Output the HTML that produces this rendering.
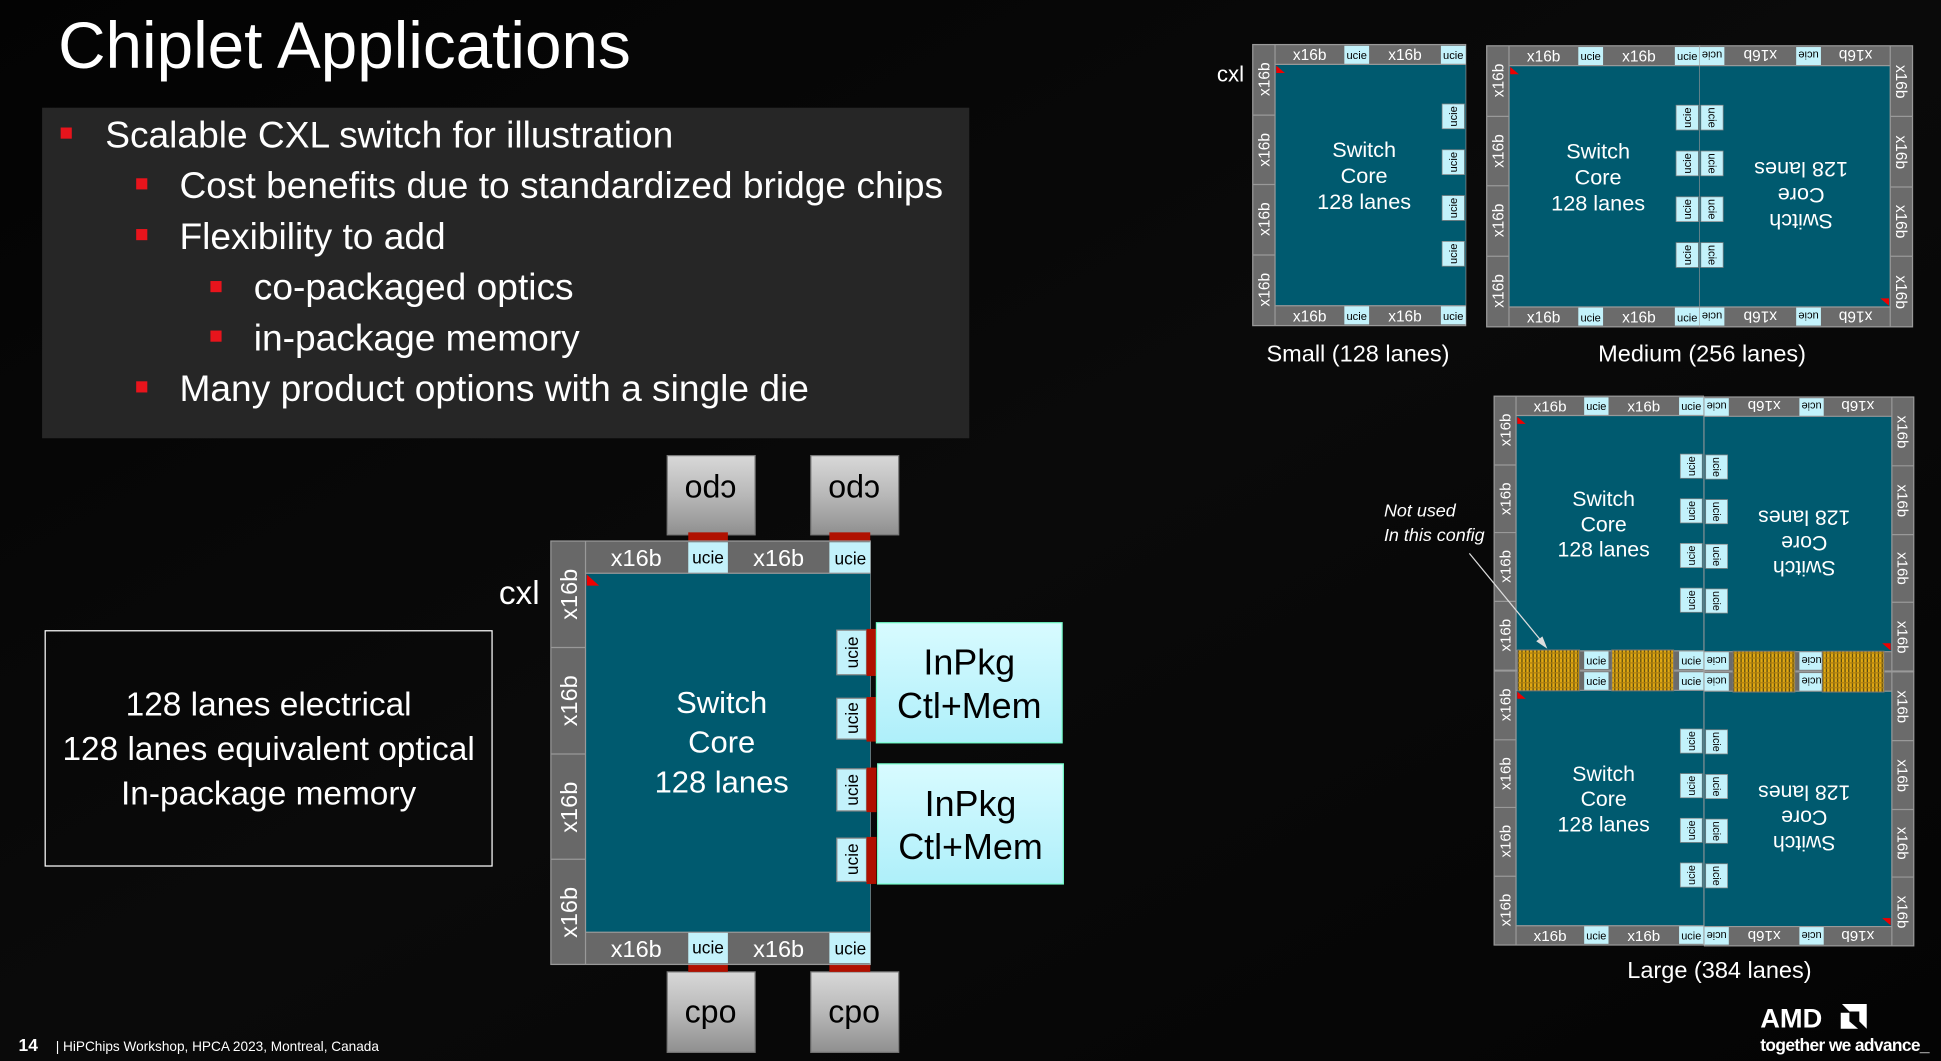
<!DOCTYPE html>
<html><head><meta charset="utf-8"><style>
body{margin:0;background:#000}
#w{width:1941px;height:1061px;overflow:hidden;background:#030303}
text{font-family:"Liberation Sans",sans-serif}
.t{fill:#fff;font-size:12.5px;text-anchor:middle}
.u{fill:#000;font-size:9px;text-anchor:middle}
.c{fill:#fff;font-size:17.5px;text-anchor:middle}
.ln{stroke:#999;stroke-width:1}
</style></head><body><div id="w">
<svg width="1941" height="1061" viewBox="0 0 1568 857" preserveAspectRatio="none" xmlns="http://www.w3.org/2000/svg">
<defs>
<linearGradient id="bg" x1="0" y1="0" x2="1" y2="1"><stop offset="0" stop-color="#030303"/><stop offset="0.5" stop-color="#0a0a0a"/><stop offset="1" stop-color="#040404"/></linearGradient>
<linearGradient id="gr" x1="0" y1="0" x2="0" y2="1"><stop offset="0" stop-color="#d8d8d8"/><stop offset="0.5" stop-color="#b8b8b8"/><stop offset="1" stop-color="#8f8f8f"/></linearGradient>
<linearGradient id="cy" x1="0" y1="0" x2="0" y2="1"><stop offset="0" stop-color="#d8fbff"/><stop offset="1" stop-color="#aeeffa"/></linearGradient>
<pattern id="hat" width="3" height="4" patternUnits="userSpaceOnUse"><rect width="3" height="4" fill="#e0a812"/><rect x="2" width="1" height="4" fill="#5a4a10"/><rect y="3" width="3" height="1" fill="#b08010"/></pattern>
</defs>
<rect width="1568" height="857" fill="url(#bg)"/>

<text x="47" y="55" style="fill:#fff;font-size:53px">Chiplet Applications</text>
<rect x="34" y="87" width="749" height="267" fill="#262626"/>
<g style="fill:#fff;font-size:30px">
<rect x="49" y="103" width="9" height="9" fill="#e8141c"/><text x="85" y="119">Scalable CXL switch for illustration</text>
<rect x="110" y="144" width="9" height="9" fill="#e8141c"/><text x="145" y="160">Cost benefits due to standardized bridge chips</text>
<rect x="110" y="185" width="9" height="9" fill="#e8141c"/><text x="145" y="201">Flexibility to add</text>
<rect x="170" y="227" width="9" height="9" fill="#e8141c"/><text x="205" y="242">co-packaged optics</text>
<rect x="170" y="267" width="9" height="9" fill="#e8141c"/><text x="205" y="283">in-package memory</text>
<rect x="110" y="308" width="9" height="9" fill="#e8141c"/><text x="145" y="324">Many product options with a single die</text>
</g>

<rect x="36.5" y="509.5" width="361" height="190" fill="none" stroke="#fff" stroke-width="1"/>
<g style="fill:#fff;font-size:27px;text-anchor:middle">
<text x="217" y="578">128 lanes electrical</text>
<text x="217" y="614">128 lanes equivalent optical</text>
<text x="217" y="650">In-package memory</text>
</g>

<text x="403" y="488" style="fill:#fff;font-size:27px">cxl</text>
<rect x="539" y="368" width="71" height="64" fill="url(#gr)" stroke="#777"/>
<rect x="655" y="368" width="71" height="64" fill="url(#gr)" stroke="#777"/>
<rect x="539" y="785" width="71" height="65" fill="url(#gr)" stroke="#777"/>
<rect x="655" y="785" width="71" height="65" fill="url(#gr)" stroke="#777"/>
<text x="574" y="404" style="font-size:26px;text-anchor:middle" transform="rotate(180 574 396)">cpo</text>
<text x="690" y="404" style="font-size:26px;text-anchor:middle" transform="rotate(180 690 396)">cpo</text>
<text x="574" y="826" style="font-size:26px;text-anchor:middle">cpo</text>
<text x="690" y="826" style="font-size:26px;text-anchor:middle">cpo</text>
<rect x="556" y="430" width="32" height="7" fill="#b01000"/>
<rect x="670" y="430" width="33" height="7" fill="#b01000"/>
<rect x="556" y="778" width="32" height="7" fill="#b01000"/>
<rect x="670" y="778" width="33" height="7" fill="#b01000"/>

<rect x="445" y="437" width="258" height="342" fill="#686868" stroke="#999"/>
<rect x="473" y="463" width="230" height="290" fill="#005a6f"/>
<rect x="556" y="438" width="32" height="25" fill="#c3f2fb"/>
<rect x="670" y="438" width="33" height="25" fill="#c3f2fb"/>
<rect x="556" y="753" width="32" height="25" fill="#c3f2fb"/>
<rect x="670" y="753" width="33" height="25" fill="#c3f2fb"/>
<g class="ln"><line x1="473" y1="437" x2="473" y2="779"/><line x1="445" y1="523" x2="473" y2="523"/><line x1="445" y1="609" x2="473" y2="609"/><line x1="445" y1="694" x2="473" y2="694"/><line x1="473" y1="463" x2="703" y2="463"/><line x1="473" y1="753" x2="703" y2="753"/></g>
<polygon points="474,464 484,473 474,473" fill="#e00"/>
<g style="fill:#fff;font-size:19px;text-anchor:middle">
<text x="514" y="457">x16b</text><text x="629" y="457">x16b</text>
<text x="514" y="773">x16b</text><text x="629" y="773">x16b</text>
<text transform="translate(466 480) rotate(-90)">x16b</text>
<text transform="translate(466 566) rotate(-90)">x16b</text>
<text transform="translate(466 652) rotate(-90)">x16b</text>
<text transform="translate(466 737) rotate(-90)">x16b</text>
</g>
<g style="fill:#000;font-size:14px;text-anchor:middle">
<text x="572" y="455">ucie</text><text x="687" y="456">ucie</text>
<text x="572" y="770">ucie</text><text x="687" y="771">ucie</text>
</g>
<g fill="#c3f2fb" stroke="#888"><rect x="676" y="509" width="24" height="36"/><rect x="676" y="564" width="24" height="33"/><rect x="676" y="621" width="24" height="34"/><rect x="676" y="677" width="24" height="35"/></g>
<g style="fill:#000;font-size:14px;text-anchor:middle">
<text transform="translate(693 527) rotate(-90)">ucie</text><text transform="translate(693 580) rotate(-90)">ucie</text>
<text transform="translate(693 638) rotate(-90)">ucie</text><text transform="translate(693 694) rotate(-90)">ucie</text>
</g>
<g fill="#b01000"><rect x="700" y="508" width="8" height="38"/><rect x="700" y="563" width="8" height="36"/><rect x="700" y="620" width="8" height="36"/><rect x="700" y="676" width="8" height="38"/></g>
<rect x="708" y="503" width="150" height="97" fill="url(#cy)" stroke="#7fc"/>
<rect x="709" y="617" width="150" height="97" fill="url(#cy)" stroke="#7fc"/>
<g style="fill:#000;font-size:29px;text-anchor:middle">
<text x="783" y="545">InPkg</text><text x="783" y="580">Ctl+Mem</text>
<text x="784" y="659">InPkg</text><text x="784" y="694">Ctl+Mem</text>
</g>
<g style="fill:#fff;font-size:25px;text-anchor:middle">
<text x="583" y="576">Switch</text><text x="583" y="608">Core</text><text x="583" y="640">128 lanes</text>
</g>

<text x="983" y="66" style="fill:#fff;font-size:18px">cxl</text>
<g transform="translate(1012 36)">
<rect x="0" y="0" width="172" height="227" fill="#6b6b6b" stroke="#9a9a9a"/>
<rect x="18" y="16" width="154" height="195" fill="#005a6f"/>
<g fill="#c3f2fb"><rect x="74" y="1" width="20" height="15"/><rect x="152" y="1" width="20" height="15"/><rect x="74" y="211" width="20" height="15"/><rect x="152" y="211" width="20" height="15"/></g>
<g class="ln"><line x1="18" y1="0" x2="18" y2="227"/><line x1="0" y1="57" x2="18" y2="57"/><line x1="0" y1="113" x2="18" y2="113"/><line x1="0" y1="170" x2="18" y2="170"/><line x1="18" y1="16" x2="172" y2="16"/><line x1="18" y1="211" x2="172" y2="211"/></g>
<g fill="#c3f2fb" stroke="#888" stroke-width="0.6"><rect x="153" y="48" width="18" height="20"/><rect x="153" y="85" width="18" height="20"/><rect x="153" y="122" width="18" height="20"/><rect x="153" y="159" width="18" height="20"/></g>
<polygon points="19,17 26,23 19,23" fill="#e00"/>
<text class="t" x="46" y="12.5">x16b</text><text class="t" x="123" y="12.5">x16b</text>
<text class="t" x="46" y="223.5">x16b</text><text class="t" x="123" y="223.5">x16b</text>
<text class="t" transform="translate(13.5 28) rotate(-90)">x16b</text><text class="t" transform="translate(13.5 85) rotate(-90)">x16b</text>
<text class="t" transform="translate(13.5 141) rotate(-90)">x16b</text><text class="t" transform="translate(13.5 198) rotate(-90)">x16b</text>
<text class="u" x="84" y="11.5">ucie</text><text class="u" x="162" y="11.5">ucie</text><text class="u" x="84" y="222.5">ucie</text><text class="u" x="162" y="222.5">ucie</text>
<text class="u" transform="translate(165 58) rotate(-90)">ucie</text><text class="u" transform="translate(165 95) rotate(-90)">ucie</text>
<text class="u" transform="translate(165 132) rotate(-90)">ucie</text><text class="u" transform="translate(165 169) rotate(-90)">ucie</text>
<text class="c" x="90" y="91">Switch</text><text class="c" x="90" y="112">Core</text><text class="c" x="90" y="133">128 lanes</text>
</g>
<text x="1097" y="292" style="fill:#fff;font-size:19px;text-anchor:middle">Small (128 lanes)</text>

<g transform="translate(1201 37)">
<rect x="0" y="0" width="172" height="227" fill="#6b6b6b" stroke="#9a9a9a"/>
<rect x="18" y="16" width="154" height="195" fill="#005a6f"/>
<g fill="#c3f2fb"><rect x="74" y="1" width="20" height="15"/><rect x="152" y="1" width="20" height="15"/><rect x="74" y="211" width="20" height="15"/><rect x="152" y="211" width="20" height="15"/></g>
<g class="ln"><line x1="18" y1="0" x2="18" y2="227"/><line x1="0" y1="57" x2="18" y2="57"/><line x1="0" y1="113" x2="18" y2="113"/><line x1="0" y1="170" x2="18" y2="170"/><line x1="18" y1="16" x2="172" y2="16"/><line x1="18" y1="211" x2="172" y2="211"/></g>
<g fill="#c3f2fb" stroke="#888" stroke-width="0.6"><rect x="153" y="48" width="18" height="20"/><rect x="153" y="85" width="18" height="20"/><rect x="153" y="122" width="18" height="20"/><rect x="153" y="159" width="18" height="20"/></g>
<polygon points="19,17 26,23 19,23" fill="#e00"/>
<text class="t" x="46" y="12.5">x16b</text><text class="t" x="123" y="12.5">x16b</text>
<text class="t" x="46" y="223.5">x16b</text><text class="t" x="123" y="223.5">x16b</text>
<text class="t" transform="translate(13.5 28) rotate(-90)">x16b</text><text class="t" transform="translate(13.5 85) rotate(-90)">x16b</text>
<text class="t" transform="translate(13.5 141) rotate(-90)">x16b</text><text class="t" transform="translate(13.5 198) rotate(-90)">x16b</text>
<text class="u" x="84" y="11.5">ucie</text><text class="u" x="162" y="11.5">ucie</text><text class="u" x="84" y="222.5">ucie</text><text class="u" x="162" y="222.5">ucie</text>
<text class="u" transform="translate(165 58) rotate(-90)">ucie</text><text class="u" transform="translate(165 95) rotate(-90)">ucie</text>
<text class="u" transform="translate(165 132) rotate(-90)">ucie</text><text class="u" transform="translate(165 169) rotate(-90)">ucie</text>
<text class="c" x="90" y="91">Switch</text><text class="c" x="90" y="112">Core</text><text class="c" x="90" y="133">128 lanes</text>
</g>
<g transform="translate(1545 264) rotate(180)">
<rect x="0" y="0" width="172" height="227" fill="#6b6b6b" stroke="#9a9a9a"/>
<rect x="18" y="16" width="154" height="195" fill="#005a6f"/>
<g fill="#c3f2fb"><rect x="74" y="1" width="20" height="15"/><rect x="152" y="1" width="20" height="15"/><rect x="74" y="211" width="20" height="15"/><rect x="152" y="211" width="20" height="15"/></g>
<g class="ln"><line x1="18" y1="0" x2="18" y2="227"/><line x1="0" y1="57" x2="18" y2="57"/><line x1="0" y1="113" x2="18" y2="113"/><line x1="0" y1="170" x2="18" y2="170"/><line x1="18" y1="16" x2="172" y2="16"/><line x1="18" y1="211" x2="172" y2="211"/></g>
<g fill="#c3f2fb" stroke="#888" stroke-width="0.6"><rect x="153" y="48" width="18" height="20"/><rect x="153" y="85" width="18" height="20"/><rect x="153" y="122" width="18" height="20"/><rect x="153" y="159" width="18" height="20"/></g>
<polygon points="19,17 26,23 19,23" fill="#e00"/>
<text class="t" x="46" y="12.5">x16b</text><text class="t" x="123" y="12.5">x16b</text>
<text class="t" x="46" y="223.5">x16b</text><text class="t" x="123" y="223.5">x16b</text>
<text class="t" transform="translate(13.5 28) rotate(-90)">x16b</text><text class="t" transform="translate(13.5 85) rotate(-90)">x16b</text>
<text class="t" transform="translate(13.5 141) rotate(-90)">x16b</text><text class="t" transform="translate(13.5 198) rotate(-90)">x16b</text>
<text class="u" x="84" y="11.5">ucie</text><text class="u" x="162" y="11.5">ucie</text><text class="u" x="84" y="222.5">ucie</text><text class="u" x="162" y="222.5">ucie</text>
<text class="u" transform="translate(165 58) rotate(-90)">ucie</text><text class="u" transform="translate(165 95) rotate(-90)">ucie</text>
<text class="u" transform="translate(165 132) rotate(-90)">ucie</text><text class="u" transform="translate(165 169) rotate(-90)">ucie</text>
<text class="c" x="90" y="91">Switch</text><text class="c" x="90" y="112">Core</text><text class="c" x="90" y="133">128 lanes</text>
</g>
<text x="1375" y="292" style="fill:#fff;font-size:19px;text-anchor:middle">Medium (256 lanes)</text>

<g transform="translate(1207 320) scale(0.983 0.975)">
<rect x="0" y="0" width="172" height="227" fill="#6b6b6b" stroke="#9a9a9a"/>
<rect x="18" y="16" width="154" height="195" fill="#005a6f"/>
<g fill="#c3f2fb"><rect x="74" y="1" width="20" height="15"/><rect x="152" y="1" width="20" height="15"/><rect x="74" y="211" width="20" height="15"/><rect x="152" y="211" width="20" height="15"/></g>
<g class="ln"><line x1="18" y1="0" x2="18" y2="227"/><line x1="0" y1="57" x2="18" y2="57"/><line x1="0" y1="113" x2="18" y2="113"/><line x1="0" y1="170" x2="18" y2="170"/><line x1="18" y1="16" x2="172" y2="16"/><line x1="18" y1="211" x2="172" y2="211"/></g>
<g fill="#c3f2fb" stroke="#888" stroke-width="0.6"><rect x="153" y="48" width="18" height="20"/><rect x="153" y="85" width="18" height="20"/><rect x="153" y="122" width="18" height="20"/><rect x="153" y="159" width="18" height="20"/></g>
<polygon points="19,17 26,23 19,23" fill="#e00"/>
<text class="t" x="46" y="12.5">x16b</text><text class="t" x="123" y="12.5">x16b</text>
<text class="t" transform="translate(13.5 28) rotate(-90)">x16b</text><text class="t" transform="translate(13.5 85) rotate(-90)">x16b</text>
<text class="t" transform="translate(13.5 141) rotate(-90)">x16b</text><text class="t" transform="translate(13.5 198) rotate(-90)">x16b</text>
<text class="u" x="84" y="11.5">ucie</text><text class="u" x="162" y="11.5">ucie</text><text class="u" x="84" y="222.5">ucie</text><text class="u" x="162" y="222.5">ucie</text>
<text class="u" transform="translate(165 58) rotate(-90)">ucie</text><text class="u" transform="translate(165 95) rotate(-90)">ucie</text>
<text class="u" transform="translate(165 132) rotate(-90)">ucie</text><text class="u" transform="translate(165 169) rotate(-90)">ucie</text>
<text class="c" x="90" y="91">Switch</text><text class="c" x="90" y="112">Core</text><text class="c" x="90" y="133">128 lanes</text>
</g>
<g transform="translate(1546 542) rotate(180) scale(0.983 0.975)">
<rect x="0" y="0" width="172" height="227" fill="#6b6b6b" stroke="#9a9a9a"/>
<rect x="18" y="16" width="154" height="195" fill="#005a6f"/>
<g fill="#c3f2fb"><rect x="74" y="1" width="20" height="15"/><rect x="152" y="1" width="20" height="15"/><rect x="74" y="211" width="20" height="15"/><rect x="152" y="211" width="20" height="15"/></g>
<g class="ln"><line x1="18" y1="0" x2="18" y2="227"/><line x1="0" y1="57" x2="18" y2="57"/><line x1="0" y1="113" x2="18" y2="113"/><line x1="0" y1="170" x2="18" y2="170"/><line x1="18" y1="16" x2="172" y2="16"/><line x1="18" y1="211" x2="172" y2="211"/></g>
<g fill="#c3f2fb" stroke="#888" stroke-width="0.6"><rect x="153" y="48" width="18" height="20"/><rect x="153" y="85" width="18" height="20"/><rect x="153" y="122" width="18" height="20"/><rect x="153" y="159" width="18" height="20"/></g>
<polygon points="19,17 26,23 19,23" fill="#e00"/>
<text class="t" x="46" y="223.5">x16b</text><text class="t" x="123" y="223.5">x16b</text>
<text class="t" transform="translate(13.5 28) rotate(-90)">x16b</text><text class="t" transform="translate(13.5 85) rotate(-90)">x16b</text>
<text class="t" transform="translate(13.5 141) rotate(-90)">x16b</text><text class="t" transform="translate(13.5 198) rotate(-90)">x16b</text>
<text class="u" x="84" y="11.5">ucie</text><text class="u" x="162" y="11.5">ucie</text><text class="u" x="84" y="222.5">ucie</text><text class="u" x="162" y="222.5">ucie</text>
<text class="u" transform="translate(165 58) rotate(-90)">ucie</text><text class="u" transform="translate(165 95) rotate(-90)">ucie</text>
<text class="u" transform="translate(165 132) rotate(-90)">ucie</text><text class="u" transform="translate(165 169) rotate(-90)">ucie</text>
<text class="c" x="90" y="91">Switch</text><text class="c" x="90" y="112">Core</text><text class="c" x="90" y="133">128 lanes</text>
</g>
<g transform="translate(1207 542) scale(0.983 0.975)">
<rect x="0" y="0" width="172" height="227" fill="#6b6b6b" stroke="#9a9a9a"/>
<rect x="18" y="16" width="154" height="195" fill="#005a6f"/>
<g fill="#c3f2fb"><rect x="74" y="1" width="20" height="15"/><rect x="152" y="1" width="20" height="15"/><rect x="74" y="211" width="20" height="15"/><rect x="152" y="211" width="20" height="15"/></g>
<g class="ln"><line x1="18" y1="0" x2="18" y2="227"/><line x1="0" y1="57" x2="18" y2="57"/><line x1="0" y1="113" x2="18" y2="113"/><line x1="0" y1="170" x2="18" y2="170"/><line x1="18" y1="16" x2="172" y2="16"/><line x1="18" y1="211" x2="172" y2="211"/></g>
<g fill="#c3f2fb" stroke="#888" stroke-width="0.6"><rect x="153" y="48" width="18" height="20"/><rect x="153" y="85" width="18" height="20"/><rect x="153" y="122" width="18" height="20"/><rect x="153" y="159" width="18" height="20"/></g>
<polygon points="19,17 26,23 19,23" fill="#e00"/>
<text class="t" x="46" y="223.5">x16b</text><text class="t" x="123" y="223.5">x16b</text>
<text class="t" transform="translate(13.5 28) rotate(-90)">x16b</text><text class="t" transform="translate(13.5 85) rotate(-90)">x16b</text>
<text class="t" transform="translate(13.5 141) rotate(-90)">x16b</text><text class="t" transform="translate(13.5 198) rotate(-90)">x16b</text>
<text class="u" x="84" y="11.5">ucie</text><text class="u" x="162" y="11.5">ucie</text><text class="u" x="84" y="222.5">ucie</text><text class="u" x="162" y="222.5">ucie</text>
<text class="u" transform="translate(165 58) rotate(-90)">ucie</text><text class="u" transform="translate(165 95) rotate(-90)">ucie</text>
<text class="u" transform="translate(165 132) rotate(-90)">ucie</text><text class="u" transform="translate(165 169) rotate(-90)">ucie</text>
<text class="c" x="90" y="91">Switch</text><text class="c" x="90" y="112">Core</text><text class="c" x="90" y="133">128 lanes</text>
</g>
<g transform="translate(1546 764) rotate(180) scale(0.983 0.975)">
<rect x="0" y="0" width="172" height="227" fill="#6b6b6b" stroke="#9a9a9a"/>
<rect x="18" y="16" width="154" height="195" fill="#005a6f"/>
<g fill="#c3f2fb"><rect x="74" y="1" width="20" height="15"/><rect x="152" y="1" width="20" height="15"/><rect x="74" y="211" width="20" height="15"/><rect x="152" y="211" width="20" height="15"/></g>
<g class="ln"><line x1="18" y1="0" x2="18" y2="227"/><line x1="0" y1="57" x2="18" y2="57"/><line x1="0" y1="113" x2="18" y2="113"/><line x1="0" y1="170" x2="18" y2="170"/><line x1="18" y1="16" x2="172" y2="16"/><line x1="18" y1="211" x2="172" y2="211"/></g>
<g fill="#c3f2fb" stroke="#888" stroke-width="0.6"><rect x="153" y="48" width="18" height="20"/><rect x="153" y="85" width="18" height="20"/><rect x="153" y="122" width="18" height="20"/><rect x="153" y="159" width="18" height="20"/></g>
<polygon points="19,17 26,23 19,23" fill="#e00"/>
<text class="t" x="46" y="12.5">x16b</text><text class="t" x="123" y="12.5">x16b</text>
<text class="t" transform="translate(13.5 28) rotate(-90)">x16b</text><text class="t" transform="translate(13.5 85) rotate(-90)">x16b</text>
<text class="t" transform="translate(13.5 141) rotate(-90)">x16b</text><text class="t" transform="translate(13.5 198) rotate(-90)">x16b</text>
<text class="u" x="84" y="11.5">ucie</text><text class="u" x="162" y="11.5">ucie</text><text class="u" x="84" y="222.5">ucie</text><text class="u" x="162" y="222.5">ucie</text>
<text class="u" transform="translate(165 58) rotate(-90)">ucie</text><text class="u" transform="translate(165 95) rotate(-90)">ucie</text>
<text class="u" transform="translate(165 132) rotate(-90)">ucie</text><text class="u" transform="translate(165 169) rotate(-90)">ucie</text>
<text class="c" x="90" y="91">Switch</text><text class="c" x="90" y="112">Core</text><text class="c" x="90" y="133">128 lanes</text>
</g>
<g fill="url(#hat)" stroke="#777" stroke-width="0.8">
<rect x="1226" y="525" width="50" height="33"/><rect x="1302" y="525" width="50" height="33"/>
<rect x="1400" y="526" width="50" height="33"/><rect x="1472" y="526" width="50" height="33"/>
</g>
<g style="fill:#fff;font-size:14.5px;font-style:italic">
<text x="1118" y="417">Not used</text><text x="1118" y="437">In this config</text>
</g>
<line x1="1187" y1="447" x2="1247" y2="520" stroke="#ddd" stroke-width="1"/>
<polygon points="1250,524 1241,518 1246,514" fill="#ddd"/>
<text x="1389" y="790" style="fill:#fff;font-size:19px;text-anchor:middle">Large (384 lanes)</text>

<text x="15" y="849" style="fill:#fff;font-size:14px;font-weight:bold">14</text>
<text x="45" y="849" style="fill:#fff;font-size:11px">| HiPChips Workshop, HPCA 2023, Montreal, Canada</text>
<text x="1422" y="830" style="fill:#fff;font-size:22px;font-weight:bold">AMD</text>
<polygon points="1488,811 1508,811 1508,831 1502,825 1502,817 1494,817" fill="#fff"/>
<polygon points="1487,818 1494,818 1494,825 1501,831 1487,831" fill="#fff"/>
<text x="1422" y="849" style="fill:#fff;font-size:14px;font-weight:bold;letter-spacing:-0.5px">together we advance_</text>
</svg>
</div></body></html>
